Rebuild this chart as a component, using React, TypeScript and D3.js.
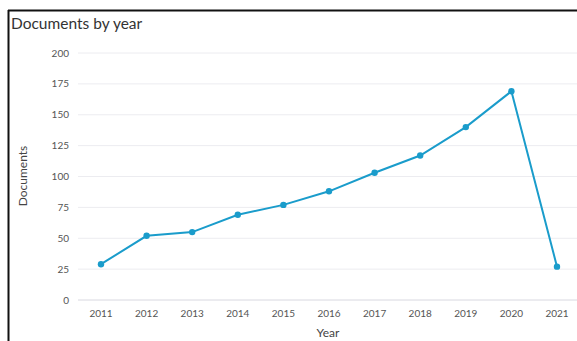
import React from "react";
import * as d3 from "d3";

const years = ["2011","2012","2013","2014","2015","2016","2017","2018","2019","2020","2021"];
const documents = [29, 52, 55, 69, 77, 88, 103, 117, 140, 169, 27];
const yTicks = [0, 25, 50, 75, 100, 125, 150, 175, 200];

const W = 577, H = 341;
const font = "Lato, 'Open Sans', sans-serif";

export default function App() {
  const x = d3.scalePoint<string>().domain(years).range([101, 557]);
  const y = d3.scaleLinear().domain([0, 200]).range([300, 53]);
  const line = d3.line<number>().x((_, i) => x(years[i])!).y(d => y(d));
  return (
    <svg width={W} height={H} style={{ position: "absolute", left: 0, top: 0, background: "#fff" }}>
      <rect x={0} y={0} width={W} height={H} fill="#fff" />
      <line x1={8.5} y1={10} x2={8.5} y2={H} stroke="#111" strokeWidth={2} />
      <line x1={8} y1={10.5} x2={W} y2={10.5} stroke="#111" strokeWidth={2} />
      <text x={11} y={29} fontFamily={font} fontSize={15.5} fill="#333">Documents by year</text>
      {yTicks.map(t => (
        <g key={t}>
          <line x1={78} x2={W} y1={y(t)} y2={y(t)} stroke={t === 0 ? "#d8d8e0" : "#ececf0"} strokeWidth={1} />
          <text x={69} y={y(t) + 3.5} textAnchor="end" fontFamily={font} fontSize={10} fill="#555">{t}</text>
        </g>
      ))}
      {years.map(yr => (
        <text key={yr} x={x(yr)} y={317} textAnchor="middle" fontFamily={font} fontSize={10} fill="#555">{yr}</text>
      ))}
      <text x={328} y={337} textAnchor="middle" fontFamily={font} fontSize={12} fill="#444">Year</text>
      <text transform={`translate(27,176) rotate(-90)`} textAnchor="middle" fontFamily={font} fontSize={12} fill="#444">Documents</text>
      <path d={line(documents)!} fill="none" stroke="#1a9ccb" strokeWidth={2} />
      {documents.map((d, i) => (
        <circle key={i} cx={x(years[i])} cy={y(d)} r={3.2} fill="#1a9ccb" />
      ))}
    </svg>
  );
}
